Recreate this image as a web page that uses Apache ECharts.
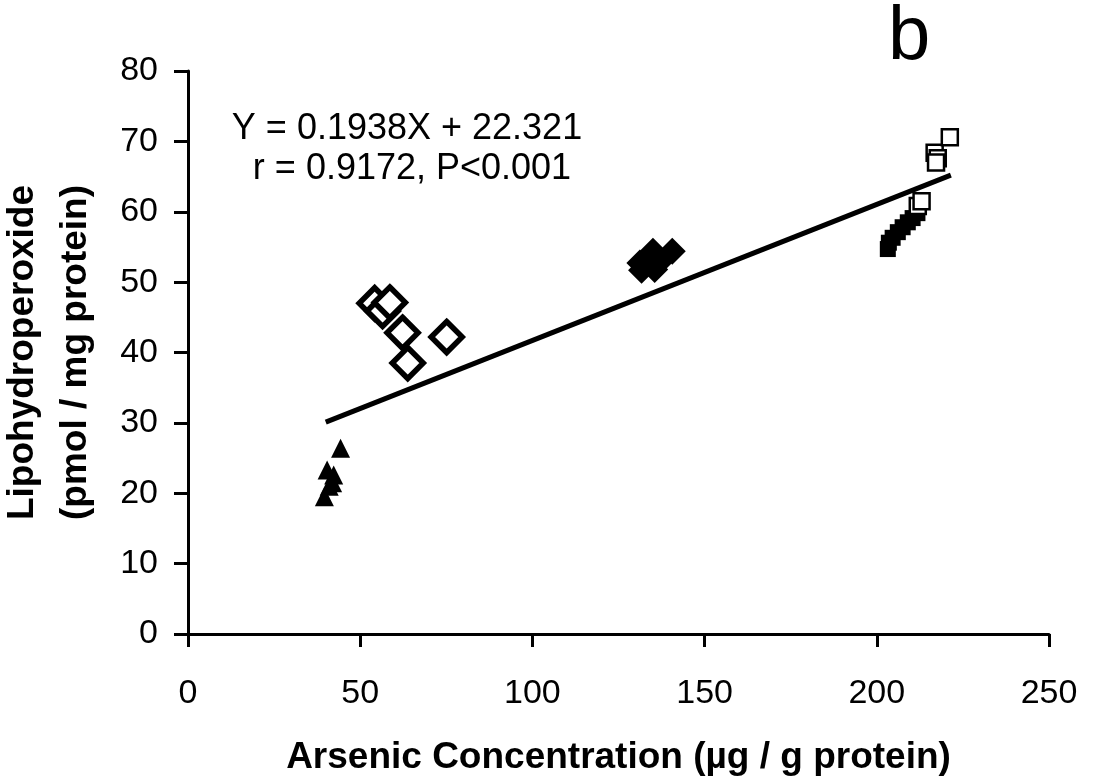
<!DOCTYPE html>
<html>
<head>
<meta charset="utf-8">
<script src="https://cdn.jsdelivr.net/npm/echarts@6/dist/echarts.min.js"></script>
<style>
  html, body {margin: 0; padding: 0; background: #fff;}
  #main {width: 1097px; height: 783px;}
</style>
</head>
<body>
<div id="main"></div>
<script>
// values [arsenic, lipohydroperoxide]
const triFilled = [[39.6, 19.5], [41, 21], [42, 21.5], [40.4, 23.3], [42.3, 22.6], [44.3, 26.4]];
const diaOpen = [[54.2, 47.0], [56.5, 45.9], [58.6, 47.1], [62.3, 42.8], [63.8, 38.5], [75.1, 42.2]];
const diaFilled = [[131.2, 52.7], [131.7, 51.7], [135.5, 51.8], [135, 54.4], [137, 52.9], [140.6, 54.4]];
const sqFilled = [[203.2, 54.7], [203.5, 55.6], [204.6, 56.3], [206.1, 57.1], [207.5, 57.8], [209.0, 58.5], [210.4, 59.1], [211.8, 59.8]];
const sqOpen = [[211.9, 60.8], [213.0, 61.5], [216.8, 68.4], [217.7, 67.6], [217.2, 67.0], [221.2, 70.6]];
const fitLine = [[40, 30.1], [221.5, 65.2]];

const xTicks = [0, 50, 100, 150, 200, 250];
const yTicks = [0, 10, 20, 30, 40, 50, 60, 70, 80];

const FONT = "'Liberation Sans', Arial, sans-serif";
const INK = '#000';

const chart = echarts.init(document.getElementById('main'));

function pts(data, symbol, size, fill, border) {
  return {
    type: 'scatter',
    data: data,
    symbol: symbol,
    symbolSize: size,
    itemStyle: {color: fill, borderColor: INK, borderWidth: border, opacity: 1},
    emphasis: {disabled: true},
    z: 3
  };
}

let option = {
  animation: false,
  backgroundColor: '#fff',
  grid: {left: 188, right: 48, top: 71, bottom: 149, outerBoundsMode: 'none', containLabel: false},
  xAxis: {
    type: 'value',
    min: xTicks[0],
    max: xTicks[xTicks.length - 1],
    interval: 50,
    splitLine: {show: false},
    axisLine: {lineStyle: {color: INK, width: 3}},
    axisTick: {length: 13, lineStyle: {color: INK, width: 3}},
    axisLabel: {color: INK, fontSize: 34, fontFamily: FONT, margin: 43},
    name: 'Arsenic Concentration (µg / g protein)',
    nameLocation: 'middle',
    nameGap: 105,
    nameTextStyle: {color: INK, fontSize: 37, fontWeight: 'bold', fontFamily: FONT}
  },
  yAxis: {
    type: 'value',
    min: yTicks[0],
    max: yTicks[yTicks.length - 1],
    interval: 10,
    splitLine: {show: false},
    axisLine: {show: true, lineStyle: {color: INK, width: 3}},
    axisTick: {show: true, length: 14, lineStyle: {color: INK, width: 3}},
    axisLabel: {color: INK, fontSize: 34, fontFamily: FONT, margin: 30},
    name: 'Lipohydroperoxide\n(pmol / mg protein)',
    nameLocation: 'middle',
    nameGap: 86,
    nameRotate: 90,
    nameTextStyle: {color: INK, fontSize: 37, fontWeight: 'bold', fontFamily: FONT, lineHeight: 53}
  },
  graphic: [
    {type: 'text', left: 888, top: 0, style: {text: 'b', fontSize: 76, fontFamily: FONT, fill: INK}},
    {type: 'text', x: 407, y: 129, style: {text: 'Y = 0.1938X + 22.321', fontSize: 36, fontFamily: FONT, fill: INK, textAlign: 'center', textVerticalAlign: 'middle'}},
    {type: 'text', x: 412, y: 169, style: {text: 'r = 0.9172, P<0.001', fontSize: 36, fontFamily: FONT, fill: INK, textAlign: 'center', textVerticalAlign: 'middle'}}
  ],
  series: [
    {
      type: 'line',
      data: fitLine,
      symbol: 'none',
      lineStyle: {color: INK, width: 5},
      emphasis: {disabled: true},
      z: 2
    },
    pts(triFilled, 'triangle', 19, INK, 0),
    pts(diaOpen, 'diamond', 31, '#fff', 5.5),
    pts(diaFilled, 'diamond', 27, INK, 0),
    pts(sqFilled, 'rect', 16, INK, 0),
    pts(sqOpen, 'rect', 16, '#fff', 2.5)
  ]
};
chart.setOption(option);
</script>
</body>
</html>
